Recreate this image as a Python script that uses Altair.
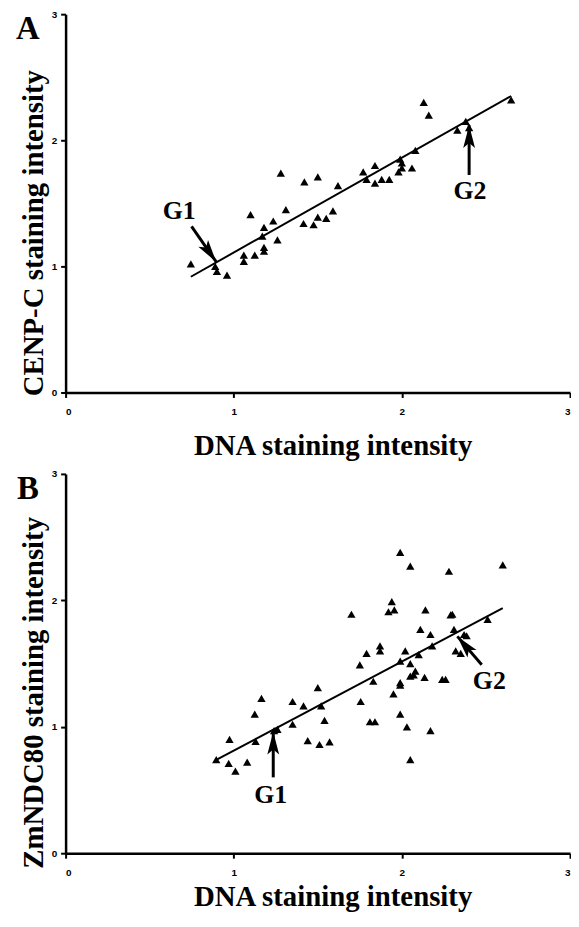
import altair as alt
import pandas as pd

# Panel A: DNA vs CENP-C staining intensity
a_x = [0.745, 0.89, 0.90, 0.96, 1.06, 1.06, 1.125, 1.18, 1.18, 1.17, 1.18, 1.26, 1.10, 1.235,
       1.31, 1.28, 1.415, 1.475, 1.50, 1.55, 1.59, 1.42, 1.50, 1.62, 1.77, 1.79, 1.84, 1.84,
       1.88, 1.925, 1.98, 2.00, 2.00, 1.99, 2.06, 2.08, 2.13, 2.16, 2.33, 2.38, 2.40, 2.65]
a_y = [1.02, 1.00, 0.96, 0.93, 1.09, 1.04, 1.09, 1.15, 1.12, 1.24, 1.31, 1.21, 1.41, 1.36,
       1.45, 1.74, 1.34, 1.33, 1.39, 1.38, 1.44, 1.67, 1.71, 1.64, 1.75, 1.69, 1.80, 1.66,
       1.69, 1.69, 1.75, 1.82, 1.78, 1.85, 1.78, 1.92, 2.30, 2.20, 2.08, 2.15, 2.10, 2.32]

# Panel B: DNA vs ZmNDC80 staining intensity
b_x = [0.896, 0.975, 0.97, 1.01, 1.08, 1.13, 1.125, 1.165, 1.24, 1.26, 1.35, 1.35, 1.415,
       1.44, 1.50, 1.52, 1.54, 1.51, 1.57, 1.70, 1.75, 1.755, 1.79, 1.83, 1.81, 1.84, 1.87,
       1.87, 1.92, 1.94, 1.955, 1.99, 1.95, 1.99, 1.99, 1.99, 1.99, 2.02, 2.03, 2.05, 2.05,
       2.07, 2.08, 2.05, 2.05, 2.10, 2.11, 2.135, 2.14, 2.17, 2.18, 2.17, 2.24, 2.26, 2.28,
       2.29, 2.30, 2.31, 2.32, 2.35, 2.37, 2.385, 2.51, 2.60]
b_y = [0.74, 0.90, 0.71, 0.65, 0.72, 0.885, 1.10, 1.225, 0.97, 0.98, 1.20, 1.02, 1.165,
       0.89, 1.31, 1.165, 1.05, 0.86, 0.88, 1.89, 1.49, 1.20, 1.58, 1.36, 1.04, 1.04, 1.64,
       1.60, 1.91, 1.99, 1.925, 2.38, 1.26, 1.52, 1.35, 1.33, 1.10, 1.60, 1.00, 1.50, 1.40,
       1.41, 1.44, 2.27, 0.74, 1.57, 1.77, 1.39, 1.925, 1.73, 1.64, 0.97, 1.375, 1.375, 2.23,
       1.885, 1.89, 1.77, 1.60, 1.58, 1.73, 1.72, 1.85, 2.28]

# Annotations (G1 / G2 arrows)
a_labels = ["G1", "G2"]
a_label_x = [0.676, 2.405]
a_label_y = [1.435, 1.60]
a_tail_x = [0.749, 2.40]
a_tail_y = [1.318, 1.725]
a_tip_x = [0.896, 2.40]
a_tip_y = [1.035, 2.12]
a_angle = [145, 0]

b_labels = ["G1", "G2"]
b_label_x = [1.22, 2.52]
b_label_y = [0.46, 1.36]
b_tail_x = [1.235, 2.475]
b_tail_y = [0.60, 1.49]
b_tip_x = [1.235, 2.33]
b_tip_y = [0.96, 1.715]
b_angle = [0, 320]

ticks = [0, 1, 2, 3]
SERIF = "Liberation Serif"
HEAD = "M0,0L0.26,1L0,0.78L-0.26,1Z"
W = 508


def panel(xs, ys, ytitle, letter, labels, lx, ly, tx, ty, hx, hy, ang, xtitle_y, h):
    df = pd.DataFrame({"x": xs, "y": ys})
    ann = pd.DataFrame({"t": labels, "lx": lx, "ly": ly, "tx": tx, "ty": ty,
                        "hx": hx, "hy": hy, "ang": ang})
    xs_ = alt.Scale(domain=[0, 3], nice=False)
    ys_ = alt.Scale(domain=[0, 3], nice=False)
    xax = alt.Axis(values=ticks, format="d", title="DNA staining intensity",
                   labelPadding=9, titleX=269, titleY=xtitle_y)
    yax = alt.Axis(values=ticks, format="d", title=ytitle, labelPadding=4,
                   titlePadding=3, titleY=220)
    x = alt.X("x:Q", scale=xs_, axis=xax)
    y = alt.Y("y:Q", scale=ys_, axis=yax)

    pts = alt.Chart(df).mark_point(shape="triangle-up", filled=True, color="black",
                                   size=70, opacity=1).encode(x=x, y=y)
    fit = alt.Chart(df).transform_regression("x", "y").mark_line(
        color="black", strokeWidth=2).encode(x="x:Q", y="y:Q")
    shafts = alt.Chart(ann).mark_rule(color="black", strokeWidth=3).encode(
        x="tx:Q", y="ty:Q", x2="hx:Q", y2="hy:Q")
    heads = alt.Chart(ann).mark_point(shape=HEAD, filled=True, color="black", size=2100,
                                      opacity=1, strokeWidth=0).encode(
        x="hx:Q", y="hy:Q", angle=alt.Angle("ang:Q", scale=None))
    txt = alt.Chart(ann).mark_text(font=SERIF, fontWeight="bold", fontSize=26,
                                   color="black").encode(x="lx:Q", y="ly:Q", text="t:N")
    let = alt.Chart(pd.DataFrame({"t": [letter]})).mark_text(
        font=SERIF, fontWeight="bold", fontSize=33, color="black",
        align="center", baseline="middle").encode(
        text="t:N", x=alt.value(-38), y=alt.value(15))
    return alt.layer(pts, fit, shafts, heads, txt, let).properties(width=W, height=h)


pa = panel(a_x, a_y, "CENP-C staining intensity", "A", a_labels, a_label_x, a_label_y,
           a_tail_x, a_tail_y, a_tip_x, a_tip_y, a_angle, 39, 381)
pb = panel(b_x, b_y, "ZmNDC80 staining intensity", "B", b_labels, b_label_x, b_label_y,
           b_tail_x, b_tail_y, b_tip_x, b_tip_y, b_angle, 30, 382)

chart = alt.vconcat(pa, pb, spacing=9).properties(
    padding={"left": 8, "top": -2, "right": 0, "bottom": 0},
    background="white",
).configure_view(stroke=None).configure_axis(
    grid=False,
    domainColor="black", domainWidth=2.5,
    tickColor="black", tickWidth=2, tickSize=5,
    labelFont="Liberation Sans Narrow, Liberation Sans", labelFontSize=10,
    labelFontWeight="bold", labelColor="black",
    titleFont=SERIF, titleFontSize=29, titleFontWeight="bold", titleColor="black",
)

chart.save("out.html", embed_options={"renderer": "svg", "actions": False})
